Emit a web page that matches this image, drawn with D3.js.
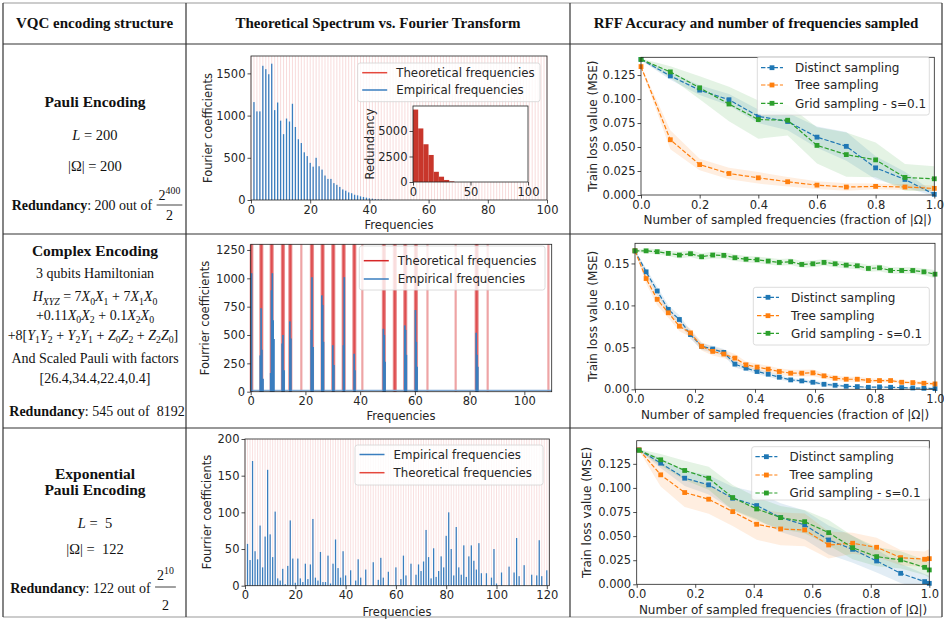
<!DOCTYPE html>
<html>
<head>
<meta charset="utf-8">
<script src="https://cdn.jsdelivr.net/npm/d3@7"></script>
<style>
  body { margin: 0; background: #fff; }
  text { white-space: pre; }
</style>
</head>
<body>
<svg id="fig" width="944" height="620"></svg>
<script>
const svg = d3.select("#fig");
const SERIF = '"Liberation Serif", "DejaVu Serif", serif';
const SANS = '"DejaVu Sans", sans-serif';
const RED = "#d62728", BLUE = "#1f77b4", ORANGE = "#ff7f0e", GREEN = "#2ca02c";

// ---------------- data ----------------
const headers = ["VQC encoding structure", "Theoretical Spectrum vs. Fourier Transform",
                 "RFF Accuracy and number of frequencies sampled"];

// row 1 : Pauli encoding, empirical coefficient at frequency 0,1,2,...
const pauliEmp = [0, 1160, 1050, 1050, 1590, 1550, 1490, 1615, 1065, 1155, 940, 780, 965, 930, 1140,
  865, 720, 675, 565, 520, 440, 395, 500, 400, 360, 290, 250, 250, 200, 180, 155, 125, 110, 90, 80,
  62, 55, 43, 36, 28, 20, 16, 10, 8, 6, 4, 3, 2];
const pauliTheo = d3.range(0, 101);          // every integer frequency 0..100
const pauliRedundancy = [7100, 5250, 3700, 2650, 1000, 520, 200, 60];
const pauliRedBin = 4.5;

// row 2 : complex encoding
const complexTheo = [0, 0.3, 0.6, 3.5, 3.75, 4.0, 4.25, 7.3, 7.55, 7.8, 8.05, 11.4, 11.65, 11.9, 12.15,
  14.1, 14.35, 14.6, 14.85, 18.5, 22.0, 22.25, 22.5, 22.75, 25.9, 26.15, 26.4, 26.65, 29.8, 30.05,
  30.3, 30.55, 33.6, 33.85, 34.1, 34.35, 37.5, 37.75, 38.0, 38.25, 40.8, 48.3, 48.55, 48.8, 49.05,
  52.3, 52.55, 52.8, 53.05, 56.1, 56.35, 56.6, 56.85, 60.0, 60.25, 60.5, 60.75, 64.6, 74.9,
  82.2, 82.45, 82.7, 82.95, 86.6, 108.8];
const complexEmp = [[0.3, 1045], [3.5, 320], [3.8, 735], [4.1, 370], [4.5, 115],
  [7.3, 165], [7.6, 895], [7.9, 1045], [8.2, 630], [8.5, 465],
  [11.5, 425], [11.8, 500], [12.2, 190], [14.3, 620], [14.7, 470],
  [22.1, 545], [22.4, 1010], [22.8, 395], [26.0, 850], [26.3, 765], [26.6, 440],
  [30.0, 410], [30.4, 235], [33.9, 410], [34.2, 1010], [37.8, 335], [38.1, 190],
  [48.5, 555], [48.8, 500], [49.1, 265], [56.3, 585], [56.6, 545], [56.9, 325],
  [60.2, 720], [60.5, 440], [60.8, 220], [82.4, 520], [82.7, 325], [83.0, 220]];
const complexFloor = 12;

// row 3 : exponential Pauli encoding, coefficient at frequency 0,1,2,...,120
const expEmp = [0, 57, 35, 170, 47, 36, 82, 25, 67, 158, 70, 39, 101, 10, 7, 23, 2, 27, 89, 37, 4,
  37, 10, 5, 30, 9, 29, 91, 11, 7, 46, 5, 5, 41, 3, 30, 63, 24, 11, 47, 14, 0, 21, 0, 7, 36, 11, 0,
  22, 0, 0, 32, 0, 8, 38, 11, 0, 19, 0, 0, 25, 0, 9, 41, 14, 0, 30, 0, 15, 29, 20, 33, 76, 39, 10,
  51, 12, 20, 40, 25, 68, 100, 50, 14, 80, 25, 15, 55, 12, 40, 55, 34, 22, 58, 17, 0, 17, 0, 11, 50,
  3, 0, 18, 0, 0, 26, 0, 18, 65, 13, 0, 28, 0, 0, 15, 0, 14, 62, 13, 0, 21];
const expTheo = d3.range(0, 122);            // every integer frequency 0..121

// right column : train loss vs fraction of sampled frequencies
const fracA = [0, 0.1, 0.2, 0.3, 0.4, 0.5, 0.6, 0.7, 0.8, 0.9, 1.0];
const lossA = {
  distinct: [0.1413, 0.1241, 0.1093, 0.0993, 0.0820, 0.0766, 0.0603, 0.0507, 0.0283, 0.0162, 0.0007],
  tree:     [0.1338, 0.0576, 0.0317, 0.0224, 0.0179, 0.0138, 0.0103, 0.0083, 0.0090, 0.0083, 0.0069],
  grid:     [0.1413, 0.1283, 0.1117, 0.0948, 0.0786, 0.0779, 0.0517, 0.0421, 0.0366, 0.0183, 0.0169]
};
const stdA = {
  distinct: [0.001, 0.004, 0.005, 0.006, 0.007, 0.009, 0.011, 0.015, 0.012, 0.008, 0.002],
  tree:     [0.001, 0.010, 0.006, 0.006, 0.006, 0.005, 0.004, 0.004, 0.003, 0.003, 0.003],
  grid:     [0.001, 0.006, 0.012, 0.018, 0.020, 0.016, 0.019, 0.023, 0.018, 0.014, 0.013]
};

const fracB = [0, 0.037, 0.074, 0.111, 0.148, 0.185, 0.222, 0.259, 0.296, 0.333, 0.370, 0.407, 0.444,
  0.481, 0.519, 0.556, 0.593, 0.630, 0.667, 0.704, 0.741, 0.778, 0.815, 0.852, 0.889, 0.926, 0.963, 1.0];
const lossB = {
  distinct: [0.165, 0.140, 0.1172, 0.0952, 0.0832, 0.0652, 0.0512, 0.048, 0.044, 0.030, 0.0252, 0.0212,
    0.018, 0.0144, 0.0112, 0.010, 0.0084, 0.006, 0.0048, 0.0036, 0.0032, 0.0024, 0.0028, 0.0024,
    0.002, 0.0016, 0.0012, 0.0008],
  tree: [0.165, 0.132, 0.1072, 0.0912, 0.0752, 0.0672, 0.0512, 0.0452, 0.042, 0.0372, 0.0292, 0.0264,
    0.024, 0.0212, 0.0192, 0.0192, 0.0196, 0.016, 0.0132, 0.012, 0.012, 0.0104, 0.0104, 0.0104,
    0.0084, 0.008, 0.0072, 0.0064],
  grid: [0.165, 0.165, 0.164, 0.162, 0.160, 0.1616, 0.158, 0.160, 0.1596, 0.1568, 0.155, 0.1544,
    0.1528, 0.1512, 0.152, 0.1488, 0.1496, 0.1512, 0.1496, 0.148, 0.1472, 0.144, 0.1448, 0.1416,
    0.1416, 0.1416, 0.140, 0.1372]
};
const stdB = {
  distinct: [0.001, 0.004, 0.005, 0.005, 0.005, 0.005, 0.004, 0.004, 0.004, 0.004, 0.003, 0.003, 0.003,
    0.003, 0.002, 0.002, 0.002, 0.002, 0.002, 0.001, 0.001, 0.001, 0.001, 0.001, 0.001, 0.001, 0.001, 0.001],
  tree: [0.001, 0.006, 0.007, 0.006, 0.006, 0.005, 0.005, 0.005, 0.005, 0.005, 0.004, 0.004, 0.004,
    0.004, 0.004, 0.004, 0.004, 0.003, 0.003, 0.003, 0.003, 0.003, 0.002, 0.002, 0.002, 0.002, 0.002, 0.002],
  grid: [0.001, 0.003, 0.003, 0.003, 0.004, 0.004, 0.004, 0.004, 0.004, 0.004, 0.004, 0.004, 0.004,
    0.004, 0.004, 0.004, 0.004, 0.004, 0.004, 0.004, 0.004, 0.004, 0.004, 0.004, 0.004, 0.004, 0.004, 0.005]
};

const fracC = [0.008, 0.082, 0.164, 0.246, 0.328, 0.410, 0.492, 0.574, 0.656, 0.738, 0.820, 0.902, 0.984, 1.0];
const lossC = {
  distinct: [0.1395, 0.1257, 0.1101, 0.1032, 0.0893, 0.0817, 0.0692, 0.0616, 0.046, 0.0363, 0.0242, 0.0114, 0.0028, 0.001],
  tree:     [0.1395, 0.1136, 0.0952, 0.0883, 0.0754, 0.0623, 0.0574, 0.0564, 0.0408, 0.0426, 0.0384, 0.0277, 0.026, 0.0266],
  grid:     [0.139, 0.1292, 0.1181, 0.1101, 0.090, 0.0782, 0.0692, 0.065, 0.0536, 0.038, 0.0287, 0.0253, 0.0176, 0.0149]
};
const stdC = {
  distinct: [0.001, 0.005, 0.008, 0.010, 0.012, 0.014, 0.015, 0.015, 0.015, 0.014, 0.012, 0.010, 0.008, 0.008],
  tree:     [0.001, 0.012, 0.015, 0.015, 0.015, 0.016, 0.017, 0.017, 0.014, 0.011, 0.010, 0.008, 0.008, 0.010],
  grid:     [0.001, 0.006, 0.010, 0.012, 0.013, 0.012, 0.012, 0.012, 0.013, 0.012, 0.010, 0.009, 0.008, 0.008]
};
const seriesNames = ["Distinct sampling", "Tree sampling", "Grid sampling - s=0.1"];

// ---------------- table ----------------
const colX = [3, 186, 570, 942];
const rowY = [3, 44, 234, 428, 617];
const grid = svg.append("g").attr("stroke", "#333").attr("stroke-width", 1.2);
grid.selectAll("line.h").data(rowY).join("line").attr("class", "h")
  .attr("x1", colX[0]).attr("x2", colX[3]).attr("y1", d => d).attr("y2", d => d)
  .attr("stroke", (d, i) => i === 0 || i === rowY.length - 1 ? "#999" : "#333");
grid.selectAll("line.v").data(colX).join("line").attr("class", "v")
  .attr("y1", rowY[0]).attr("y2", rowY[4]).attr("x1", d => d).attr("x2", d => d);

svg.append("g").selectAll("text").data(headers).join("text")
  .attr("x", (d, i) => (colX[i] + colX[i + 1]) / 2).attr("y", 28)
  .attr("text-anchor", "middle").style("font-family", SERIF).style("font-weight", "bold")
  .style("font-size", "15px").attr("fill", "#111").text(d => d);

// rich serif text with italic / sub / sup parts
function rich(g, x, y, parts, fs, anchor) {
  const t = g.append("text").attr("x", x).attr("y", y).attr("text-anchor", anchor || "middle")
    .style("font-family", SERIF).style("font-size", fs + "px").attr("fill", "#111");
  let cur = 0;
  parts.forEach(([s, k]) => {
    const ts = t.append("tspan").text(s);
    const sub = k.includes("s"), sup = k.includes("u");
    const off = sub ? fs * 0.28 : sup ? -fs * 0.42 : 0;
    if (off !== cur) { ts.attr("dy", off - cur); cur = off; }
    if (sub || sup) ts.style("font-size", (fs * 0.7) + "px");
    if (k.includes("i")) ts.style("font-style", "italic");
    if (k.includes("b")) ts.style("font-weight", "bold");
  });
  return t;
}

function redundancy(cx, base, count, frac, numBase, barY, denBase) {
  const g = svg.append("g");
  const t = rich(g, 0, base, [["Redundancy", "b"], [`: ${count} out of `, ""]], 14, "start");
  let w = t.node().getComputedTextLength();
  let total = w;
  if (typeof frac === "string") {
    const d = rich(g, w, base, [[frac, ""]], 14, "start");
    total = w + d.node().getComputedTextLength();
  } else {
    const n = rich(g, 0, numBase, frac, 14, "middle");
    const nw = n.node().getComputedTextLength() + 4;
    const c = w + 1 + nw / 2;
    n.attr("x", c);
    g.append("line").attr("x1", w + 1).attr("x2", w + 1 + nw).attr("y1", barY).attr("y2", barY)
      .attr("stroke", "#111").attr("stroke-width", 0.8);
    rich(g, c, denBase, [["2", ""]], 14, "middle");
    total = w + 1 + nw;
  }
  g.attr("transform", `translate(${cx - total / 2},0)`);
}

const left = svg.append("g");
const cx0 = 95;
// row 1
rich(left, cx0, 107, [["Pauli Encoding", "b"]], 15.5);
rich(left, cx0, 140, [["L", "i"], [" = 200", ""]], 14.5);
rich(left, cx0, 171, [["|Ω| = 200", ""]], 14.5);
redundancy(97, 210, "200", [["2", ""], ["400", "u"]], 200, 205, 220);
// row 2
rich(left, cx0, 256, [["Complex Encoding", "b"]], 15.5);
rich(left, cx0, 278, [["3 qubits Hamiltonian", ""]], 14);
rich(left, cx0, 301, [["H", "i"], ["XYZ", "is"], [" = 7", ""], ["X", "i"], ["0", "s"], ["X", "i"], ["1", "s"],
  [" + 7", ""], ["X", "i"], ["1", "s"], ["X", "i"], ["0", "s"]], 14);
rich(left, cx0, 319.5, [["+0.11", ""], ["X", "i"], ["0", "s"], ["X", "i"], ["2", "s"], [" + 0.1", ""],
  ["X", "i"], ["2", "s"], ["X", "i"], ["0", "s"]], 14);
rich(left, 93, 339.5, [["+8[", ""], ["Y", "i"], ["1", "s"], ["Y", "i"], ["2", "s"], [" + ", ""], ["Y", "i"],
  ["2", "s"], ["Y", "i"], ["1", "s"], [" + ", ""], ["Z", "i"], ["0", "s"], ["Z", "i"], ["2", "s"],
  [" + ", ""], ["Z", "i"], ["2", "s"], ["Z", "i"], ["0", "s"], ["]", ""]], 14);
rich(left, cx0, 363, [["And Scaled Pauli with factors", ""]], 14);
rich(left, cx0, 383, [["[26.4,34.4,22.4,0.4]", ""]], 14);
redundancy(97, 416, "545", " 8192");
// row 3
rich(left, cx0, 479, [["Exponential", "b"]], 15.5);
rich(left, cx0, 495, [["Pauli Encoding", "b"]], 15.5);
rich(left, cx0, 528, [["L", "i"], [" =  5", ""]], 14.5);
rich(left, cx0, 554, [["|Ω| =  122", ""]], 14.5);
redundancy(93, 593, "122", [["2", ""], ["10", "u"]], 580, 587, 610);

// ---------------- matplotlib-like helpers ----------------
function frame(g, x, y, xt, yt, xf, yf, fs) {
  const [xa, xb] = x.range(), [ya, yb] = y.range();
  const ax = g.append("g").attr("transform", `translate(0,${ya})`)
    .call(d3.axisBottom(x).tickValues(xt).tickFormat(xf).tickSizeInner(3.5).tickSizeOuter(0).tickPadding(2));
  const ay = g.append("g").attr("transform", `translate(${xa},0)`)
    .call(d3.axisLeft(y).tickValues(yt).tickFormat(yf).tickSizeInner(3.5).tickSizeOuter(0).tickPadding(2));
  [ax, ay].forEach(a => {
    a.select(".domain").remove();
    a.selectAll("line").attr("stroke", "#222").attr("stroke-width", 0.8);
    a.selectAll("text").style("font-family", SANS).style("font-size", fs + "px").attr("fill", "#262626");
  });
  g.append("rect").attr("x", xa).attr("y", yb).attr("width", xb - xa).attr("height", ya - yb)
    .attr("fill", "none").attr("stroke", "#222").attr("stroke-width", 0.8);
}
function label(g, x, y, txt, fs, rot, anchor) {
  const t = g.append("text").attr("text-anchor", anchor || "middle").attr("dy", "0.35em")
    .style("font-family", SANS).style("font-size", fs + "px").attr("fill", "#262626").text(txt);
  if (rot) t.attr("transform", `translate(${x},${y}) rotate(-90)`);
  else t.attr("x", x).attr("y", y);
  return t;
}
function legendBox(g, x0, y0, x1, y1) {
  g.append("rect").attr("x", x0).attr("y", y0).attr("width", x1 - x0).attr("height", y1 - y0).attr("rx", 2.5)
    .attr("fill", "#fff").attr("fill-opacity", 0.8).attr("stroke", "#d3d3d3").attr("stroke-width", 0.8);
}
function specLegend(g, box, rows) {
  legendBox(g, ...box);
  rows.forEach(r => {
    g.append("line").attr("x1", box[0] + 4.5).attr("x2", box[0] + 29.5).attr("y1", r.y).attr("y2", r.y)
      .attr("stroke", r.color).attr("stroke-width", 1.5);
    label(g, box[0] + 38.5, r.y, r.text, 11.8, false, "start");
  });
}

// ---------------- row 1 spectrum ----------------
{
  const g = svg.append("g");
  const x = d3.scaleLinear([0, 100], [251, 547]);
  const y = d3.scaleLinear([0, 1706], [200, 56]);
  g.append("g").selectAll("line").data(pauliTheo).join("line")
    .attr("x1", d => x(d)).attr("x2", d => x(d)).attr("y1", y(0)).attr("y2", y(1706))
    .attr("stroke", RED).attr("stroke-opacity", 0.16).attr("stroke-width", 1);
  g.append("g").selectAll("rect").data(pauliEmp).join("rect")
    .attr("x", (d, i) => x(i - 0.22)).attr("width", x(0.44) - x(0))
    .attr("y", d => y(d)).attr("height", d => y(0) - y(d)).attr("fill", "#3a7ebf");
  frame(g, x, y, [0, 20, 40, 60, 80, 100], [0, 500, 1000, 1500], d3.format("d"), d3.format("d"), 11.5);
  label(g, 399, 225, "Frequencies", 11.5);
  label(g, 208, 128, "Fourier coefficients", 11.5, true);
  specLegend(g, [357.7, 63, 540, 101.7], [
    { text: "Theoretical frequencies", color: "#e5483d", y: 72.7 },
    { text: "Empirical frequencies", color: "#3a7ebf", y: 90 }]);
  // inset histogram of redundancy
  const xi = d3.scaleLinear([0, 100], [413, 528]);
  const yi = d3.scaleLinear([0, 7450], [182, 106]);
  g.append("rect").attr("x", 413).attr("y", 106).attr("width", 115).attr("height", 76).attr("fill", "#fff");
  g.append("g").selectAll("rect").data(pauliRedundancy).join("rect")
    .attr("x", (d, i) => xi(i * pauliRedBin)).attr("width", xi(pauliRedBin) - xi(0))
    .attr("y", d => yi(d)).attr("height", d => yi(0) - yi(d)).attr("fill", "#c8362b");
  frame(g, xi, yi, [0, 50, 100], [0, 2500, 5000], d3.format("d"), d3.format("d"), 11.5);
  label(g, 370, 144, "Redundancy", 11.5, true);
}

// ---------------- row 2 spectrum ----------------
{
  const g = svg.append("g");
  const x = d3.scaleLinear([0, 110], [250.7, 551.7]);
  const y = d3.scaleLinear([0, 1300], [391.7, 244.3]);
  g.append("g").selectAll("rect").data(complexTheo).join("rect")
    .attr("x", d => x(d - 0.4)).attr("width", x(0.8) - x(0)).attr("y", y(1300)).attr("height", y(0) - y(1300))
    .attr("fill", RED).attr("fill-opacity", 0.42);
  g.append("line").attr("x1", x(0)).attr("x2", x(110)).attr("y1", y(complexFloor)).attr("y2", y(complexFloor))
    .attr("stroke", "#7fa8d4").attr("stroke-width", 1.2);
  g.append("g").selectAll("line").data(complexEmp).join("line")
    .attr("x1", d => x(d[0])).attr("x2", d => x(d[0])).attr("y1", y(0)).attr("y2", d => y(d[1]))
    .attr("stroke", "#3a7ebf").attr("stroke-width", 1.7);
  frame(g, x, y, [0, 20, 40, 60, 80, 100], [0, 250, 500, 750, 1000, 1250], d3.format("d"), d3.format("d"), 11.5);
  label(g, 401, 415.7, "Frequencies", 11.5);
  label(g, 205, 318, "Fourrier coefficients", 11.5, true);
  specLegend(g, [359.3, 246, 545, 290], [
    { text: "Theoretical frequencies", color: RED, y: 260.7 },
    { text: "Empirical frequencies", color: "#3a7ebf", y: 279 }]);
}

// ---------------- row 3 spectrum ----------------
{
  const g = svg.append("g");
  const x = d3.scaleLinear([0, 121], [245, 549.3]);
  const y = d3.scaleLinear([0, 200], [585.7, 439]);
  g.append("g").selectAll("line").data(expTheo).join("line")
    .attr("x1", d => x(d)).attr("x2", d => x(d)).attr("y1", y(0)).attr("y2", y(200))
    .attr("stroke", RED).attr("stroke-opacity", 0.14).attr("stroke-width", 1);
  g.append("g").selectAll("rect").data(expEmp).join("rect")
    .attr("x", (d, i) => x(i - 0.25)).attr("width", x(0.5) - x(0))
    .attr("y", d => y(d)).attr("height", d => y(0) - y(d)).attr("fill", "#3a7ebf");
  frame(g, x, y, [0, 20, 40, 60, 80, 100, 120], [0, 50, 100, 150, 200], d3.format("d"), d3.format("d"), 11.5);
  label(g, 397, 611.7, "Frequencies", 11.5);
  label(g, 206.7, 512, "Fourrier coefficients", 11.5, true);
  specLegend(g, [355, 445, 543, 485], [
    { text: "Empirical frequencies", color: "#3a7ebf", y: 454.5 },
    { text: "Theoretical frequencies", color: "#e5483d", y: 472.7 }]);
}

// ---------------- right column ----------------
function lossPanel(cfg) {
  const g = svg.append("g");
  const x = d3.scaleLinear([0, 1], cfg.xr);
  const y = d3.scaleLinear([0, cfg.ymax], cfg.yr);
  const id = "clip" + cfg.key;
  g.append("clipPath").attr("id", id).append("rect")
    .attr("x", cfg.xr[0]).attr("y", cfg.yr[1]).attr("width", cfg.xr[1] - cfg.xr[0]).attr("height", cfg.yr[0] - cfg.yr[1]);
  const series = [
    { vals: cfg.loss.distinct, std: cfg.std.distinct, color: BLUE },
    { vals: cfg.loss.tree, std: cfg.std.tree, color: ORANGE },
    { vals: cfg.loss.grid, std: cfg.std.grid, color: GREEN }];
  const body = g.append("g").attr("clip-path", `url(#${id})`);
  series.forEach(s => {
    const area = d3.area().x((d, i) => x(cfg.xs[i]))
      .y0((d, i) => y(d - s.std[i])).y1((d, i) => y(d + s.std[i]));
    body.append("path").datum(s.vals).attr("d", area).attr("fill", s.color).attr("fill-opacity", 0.13);
  });
  const mk = 4.8;
  series.forEach(s => {
    const line = d3.line().x((d, i) => x(cfg.xs[i])).y(d => y(d));
    g.append("path").datum(s.vals).attr("d", line).attr("fill", "none").attr("stroke", s.color)
      .attr("stroke-width", 1.2).attr("stroke-dasharray", "4.4,1.9");
    g.append("g").selectAll("rect").data(s.vals).join("rect")
      .attr("x", (d, i) => x(cfg.xs[i]) - mk / 2).attr("y", d => y(d) - mk / 2)
      .attr("width", mk).attr("height", mk).attr("fill", s.color);
  });
  frame(g, x, y, [0, 0.2, 0.4, 0.6, 0.8, 1.0], cfg.yt, d3.format(".1f"), d3.format(cfg.yf), 11.5);
  label(g, (cfg.xr[0] + cfg.xr[1]) / 2, cfg.xlabY, "Number of sampled frequencies (fraction of |Ω|)", 12);
  label(g, cfg.ylabX, (cfg.yr[0] + cfg.yr[1]) / 2, "Train loss value (MSE)", 12, true);
  const b = cfg.legend;
  legendBox(g, b[0], b[1], b[2], b[3]);
  series.forEach((s, i) => {
    const ly = cfg.legendRows[i];
    g.append("line").attr("x1", b[0] + 3.7).attr("x2", b[0] + 25.7).attr("y1", ly).attr("y2", ly)
      .attr("stroke", s.color).attr("stroke-width", 1.2).attr("stroke-dasharray", "4.4,1.9");
    g.append("rect").attr("x", b[0] + 14.7 - mk / 2).attr("y", ly - mk / 2).attr("width", mk).attr("height", mk)
      .attr("fill", s.color);
    label(g, b[0] + 37.7, ly, seriesNames[i], 12, false, "start");
  });
}

lossPanel({ key: "a", xr: [641, 934.3], yr: [195, 57.3], ymax: 0.1435, xs: fracA, loss: lossA, std: stdA,
  yt: [0, 0.025, 0.05, 0.075, 0.1, 0.125], yf: ".3f", xlabY: 220, ylabX: 593,
  legend: [757.3, 56.7, 929.3, 115], legendRows: [67.7, 85, 103.3] });
lossPanel({ key: "b", xr: [635, 935], yr: [389.3, 243.3], ymax: 0.174, xs: fracB, loss: lossB, std: stdB,
  yt: [0, 0.05, 0.1, 0.15], yf: ".2f", xlabY: 414.3, ylabX: 592.7,
  legend: [753.3, 287.3, 929.3, 345], legendRows: [297.3, 315.7, 333.3] });
lossPanel({ key: "c", xr: [636.7, 929.3], yr: [584.3, 440.7], ymax: 0.149, xs: fracC, loss: lossC, std: stdC,
  yt: [0, 0.025, 0.05, 0.075, 0.1, 0.125], yf: ".3f", xlabY: 610, ylabX: 586.7,
  legend: [751.7, 446.7, 929.3, 500], legendRows: [456.7, 475, 493] });
</script>
</body>
</html>
